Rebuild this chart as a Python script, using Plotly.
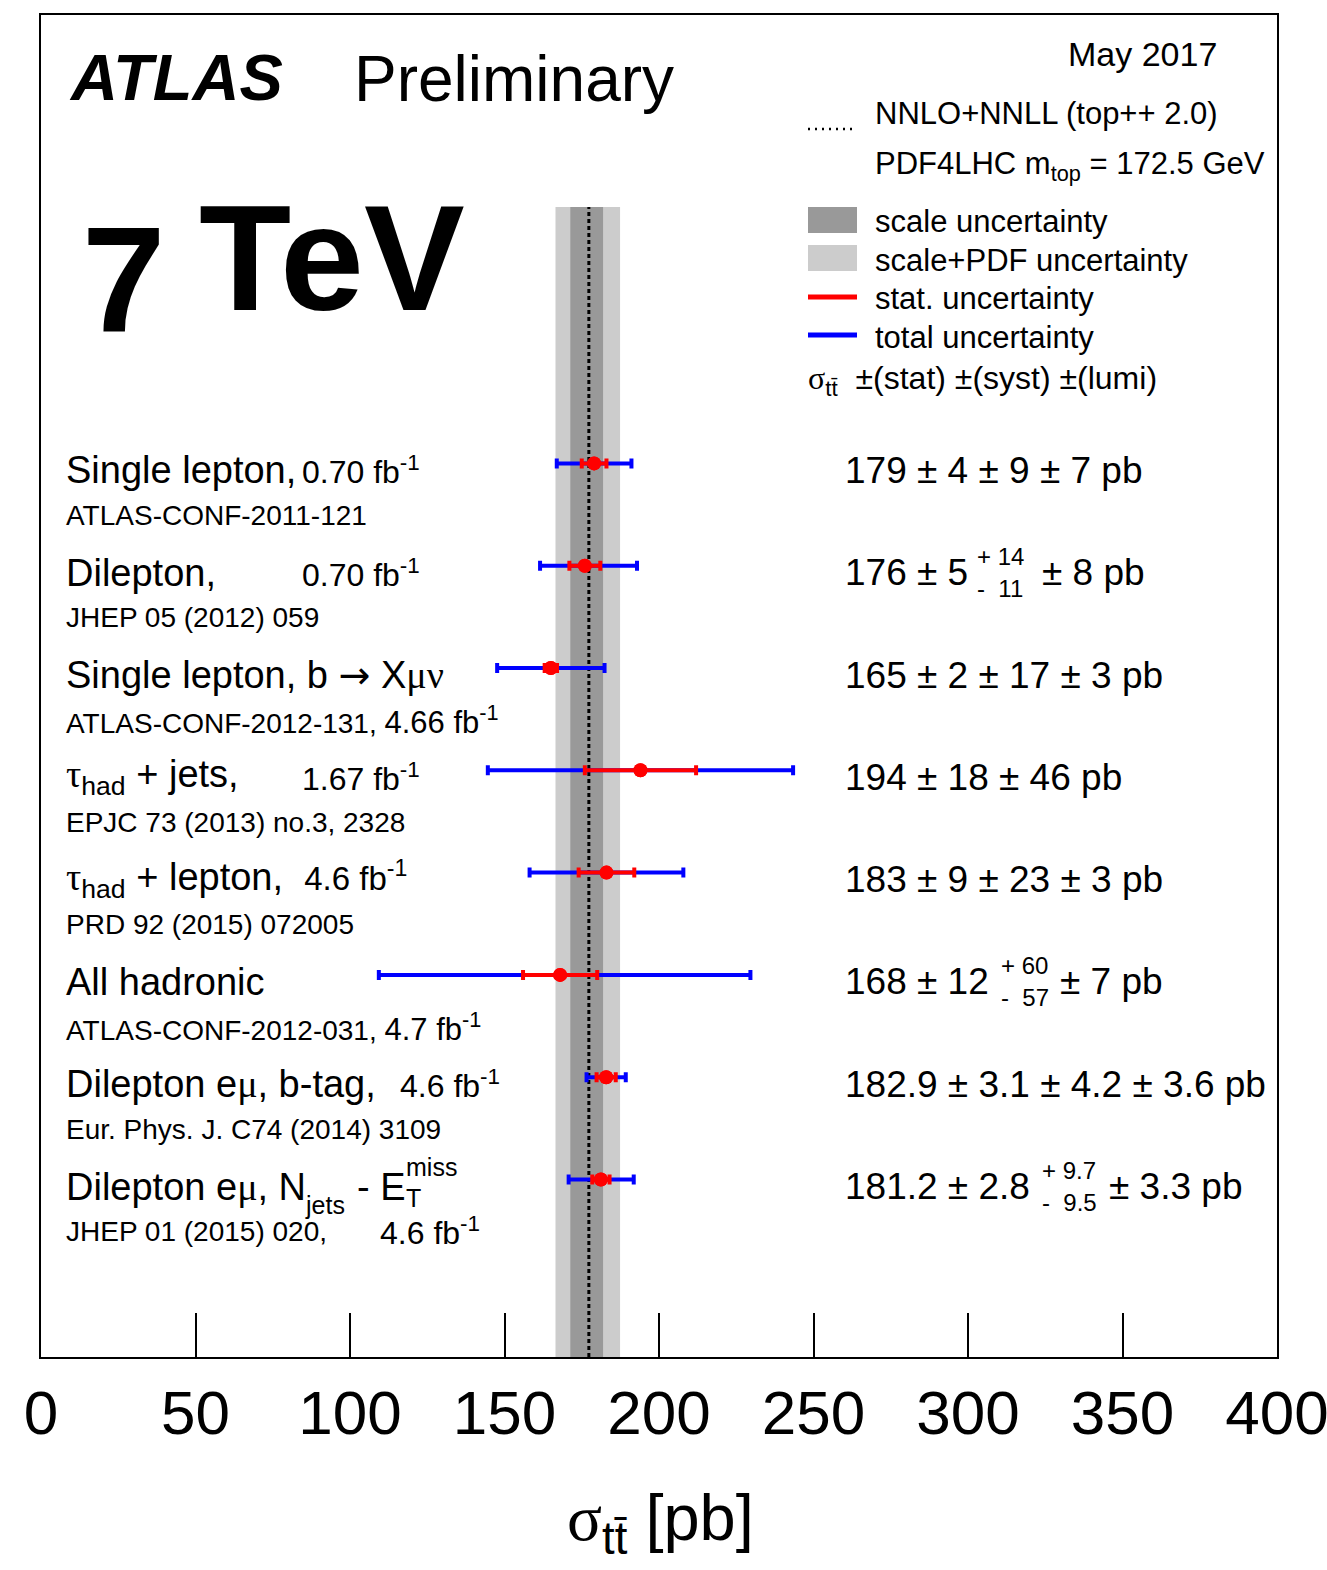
import math
import plotly.graph_objects as go

# ---------------- data ----------------
rows = [0, 1, 2, 3, 4, 5, 6, 7]
xsec = [179, 176, 165, 194, 183, 168, 182.9, 181.2]
stat = [4, 5, 2, 18, 9, 12, 3.1, 2.8]
syst_up = [9, 14, 17, 46, 23, 60, 4.2, 9.7]
syst_dn = [9, 11, 17, 46, 23, 57, 4.2, 9.5]
lumi = [7, 8, 3, 0, 3, 7, 3.6, 3.3]

# theory NNLO+NNLL (top++ 2.0)
th_central = 177.3
th_scale_up, th_scale_dn = 4.6, 6.0
th_tot_up, th_tot_dn = 10.1, 10.8

SERIF = "Liberation Serif"
SANS = "Liberation Sans"

def g(s):
    return '<span style="font-family:%s">%s</span>' % (SERIF, s)

ARROW = '<span style="font-family:DejaVu Sans">\u2192</span>'

label_main = [
    "Single lepton,",
    "Dilepton,",
    "Single lepton, b " + ARROW + " X" + g("\u03bc\u03bd"),
    g("\u03c4") + "<sub>had</sub> + jets,",
    g("\u03c4") + "<sub>had</sub> + lepton,  <span style=\"font-size:33px\">4.6 fb<sup>-1</sup></span>",
    "All hadronic",
    "Dilepton e" + g("\u03bc") + ", b-tag,",
    "Dilepton e" + g("\u03bc") + ", N",
]
label_ref = [
    "ATLAS-CONF-2011-121",
    "JHEP 05 (2012) 059",
    "ATLAS-CONF-2012-131, <span style=\"font-size:31px\">4.66 fb<sup>-1</sup></span>",
    "EPJC 73 (2013) no.3, 2328",
    "PRD 92 (2015) 072005",
    "ATLAS-CONF-2012-031, <span style=\"font-size:31px\">4.7 fb<sup>-1</sup></span>",
    "Eur. Phys. J. C74 (2014) 3109",
    "JHEP 01 (2015) 020,",
]
# (row, pixel x, text) for luminosity tags placed separately
lumi_tags = [
    (0, 300, "0.70 fb<sup>-1</sup>"),
    (1, 300, "0.70 fb<sup>-1</sup>"),
    (3, 300, "1.67 fb<sup>-1</sup>"),
    (6, 398, "4.6 fb<sup>-1</sup>"),
]
res_main = [
    "179 \u00b1 4 \u00b1 9 \u00b1 7 pb",
    "176 \u00b1 5",
    "165 \u00b1 2 \u00b1 17 \u00b1 3 pb",
    "194 \u00b1 18 \u00b1 46 pb",
    "183 \u00b1 9 \u00b1 23 \u00b1 3 pb",
    "168 \u00b1 12",
    "182.9 \u00b1 3.1 \u00b1 4.2 \u00b1 3.6 pb",
    "181.2 \u00b1 2.8",
]
# asymmetric syst entries: (row, x of up/down, up text, down text, x of tail, tail text)
res_asym = [
    (1, 975, "+ 14", "-  11", 1040, "\u00b1 8 pb"),
    (5, 999, "+ 60", "-  57", 1058, "\u00b1 7 pb"),
    (7, 1040, "+ 9.7", "-  9.5", 1107, "\u00b1 3.3 pb"),
]

tot_up = [math.sqrt(s**2 + u**2 + l**2) for s, u, l in zip(stat, syst_up, lumi)]
tot_dn = [math.sqrt(s**2 + d**2 + l**2) for s, d, l in zip(stat, syst_dn, lumi)]

# ---------------- layout geometry (pixels) ----------------
W, H = 1327, 1570
L, R, T, B = 41, 1277, 15, 1357
ROW0_PX, ROW_PX = 463.4, 102.3
Y_TOP = (T - ROW0_PX) / ROW_PX
Y_BOT = (B - ROW0_PX) / ROW_PX
BAND_TOP = (207 - ROW0_PX) / ROW_PX

def px(xp):
    return (xp - L) / (R - L)

def py(yp):
    return (B - yp) / (B - T)

fig = go.Figure()

fig.add_trace(go.Scatter(
    x=xsec, y=rows, mode="markers",
    marker=dict(color="red", size=14),
    error_x=dict(type="data", symmetric=False, array=tot_up, arrayminus=tot_dn,
                 color="#0000ff", thickness=4, width=5),
    showlegend=False, hoverinfo="skip"))
fig.add_trace(go.Scatter(
    x=xsec, y=rows, mode="markers",
    marker=dict(color="red", size=14),
    error_x=dict(type="data", array=stat, color="#ff0000", thickness=4, width=5),
    showlegend=False, hoverinfo="skip"))

shapes = [
    dict(type="rect", xref="x", yref="y", x0=th_central - th_tot_dn, x1=th_central + th_tot_up,
         y0=Y_BOT, y1=BAND_TOP, fillcolor="#cccccc", line=dict(width=0), layer="below"),
    dict(type="rect", xref="x", yref="y", x0=th_central - th_scale_dn, x1=th_central + th_scale_up,
         y0=Y_BOT, y1=BAND_TOP, fillcolor="#999999", line=dict(width=0), layer="below"),
    dict(type="line", xref="x", yref="y", x0=th_central, x1=th_central, y0=Y_BOT, y1=BAND_TOP,
         line=dict(color="black", width=3, dash="4px,3px"), layer="below"),
    # legend symbols
    dict(type="line", xref="paper", yref="paper", x0=px(808), x1=px(855), y0=py(129), y1=py(129),
         line=dict(color="black", width=2.5, dash="2px,5px")),
    dict(type="rect", xref="paper", yref="paper", x0=px(808), x1=px(857), y0=py(233), y1=py(207),
         fillcolor="#999999", line=dict(width=0)),
    dict(type="rect", xref="paper", yref="paper", x0=px(808), x1=px(857), y0=py(271), y1=py(245),
         fillcolor="#cccccc", line=dict(width=0)),
    dict(type="line", xref="paper", yref="paper", x0=px(808), x1=px(857), y0=py(297), y1=py(297),
         line=dict(color="#ff0000", width=5)),
    dict(type="line", xref="paper", yref="paper", x0=px(808), x1=px(857), y0=py(335), y1=py(335),
         line=dict(color="#0000ff", width=5)),
]

ann = []

def A(text, x, y, size, xanchor="left", yanchor="middle", xref="paper", yref="paper",
      yshift=0, family=SANS, **kw):
    ann.append(dict(text=text, x=x, y=y, xref=xref, yref=yref, xanchor=xanchor,
                    yanchor=yanchor, yshift=yshift, showarrow=False,
                    font=dict(family=family, size=size, color="black", **kw)))

# headers
A("ATLAS", px(67), py(77), 65, weight="bold", style="italic")
A("Preliminary", px(352), py(79), 64)
A("May 2017", px(1066), py(54), 34)
A("7", px(80), py(280), 150, weight="bold")
A("TeV", px(197), py(257), 151, weight="bold")

# legend texts
A("NNLO+NNLL (top++ 2.0)", px(873), py(114), 31)
A("PDF4LHC m<sub>top</sub> = 172.5 GeV", px(873), py(166), 31)
A("scale uncertainty", px(873), py(222), 31)
A("scale+PDF uncertainty", px(873), py(260), 31)
A("stat. uncertainty", px(873), py(298), 31)
A("total uncertainty", px(873), py(337), 31)
A(g("\u03c3") + "<sub>tt\u0304</sub>  \u00b1(stat) \u00b1(syst) \u00b1(lumi)", px(806), py(380), 32)

# row labels
for r in rows:
    A(label_main[r], px(64), r, 38, yref="y", yshift=-7)
    A(label_ref[r], px(64), r, 28, yref="y", yshift=-52)
    A(res_main[r], px(843), r, 37, yref="y", yshift=-7)
for r, xx, t in lumi_tags:
    A(t, px(xx), r, 32, yref="y", yshift=-7)
for r, xx, up, dn, xt, tail in res_asym:
    A(up, px(xx), r, 24, yref="y", yshift=9)
    A(dn, px(xx), r, 24, yref="y", yshift=-23)
    A(tail, px(xt), r, 37, yref="y", yshift=-7)
# N_jets - E_T^miss pieces for the last row
A("jets", px(303), 7, 25, yref="y", yshift=-25)
A("- E", px(355), 7, 38, yref="y", yshift=-7)
A("miss", px(404), 7, 25, yref="y", yshift=13)
A("T", px(404), 7, 25, yref="y", yshift=-18)
A("4.6 fb<sup>-1</sup>", px(378), 7, 32, yref="y", yshift=-51)

# axis title
A(g("\u03c3") + "<sub>tt\u0304</sub> [pb]", px(660), py(1522), 65, xanchor="center")

fig.update_layout(
    width=W, height=H, autosize=False,
    margin=dict(l=L, r=W - R, t=T, b=H - B, pad=0, autoexpand=False),
    paper_bgcolor="white", plot_bgcolor="white",
    shapes=shapes, annotations=ann, showlegend=False,
    xaxis=dict(range=[0, 400], tickvals=[0, 50, 100, 150, 200, 250, 300, 350, 400],
               ticks="inside", ticklen=44, tickwidth=2, tickcolor="black",
               showline=True, linewidth=2, linecolor="black", mirror=True,
               showgrid=False, zeroline=False, ticklabeloverflow="allow", automargin=False,
               tickfont=dict(family=SANS, size=62, color="black"), ticklabelstandoff=1),
    yaxis=dict(range=[Y_BOT, Y_TOP], showticklabels=False, ticks="",
               showline=True, linewidth=2, linecolor="black", mirror=True,
               showgrid=False, zeroline=False, automargin=False),
)

fig.write_html("out.html", config={"displayModeBar": False},
               post_script="document.body.style.margin='0';")
